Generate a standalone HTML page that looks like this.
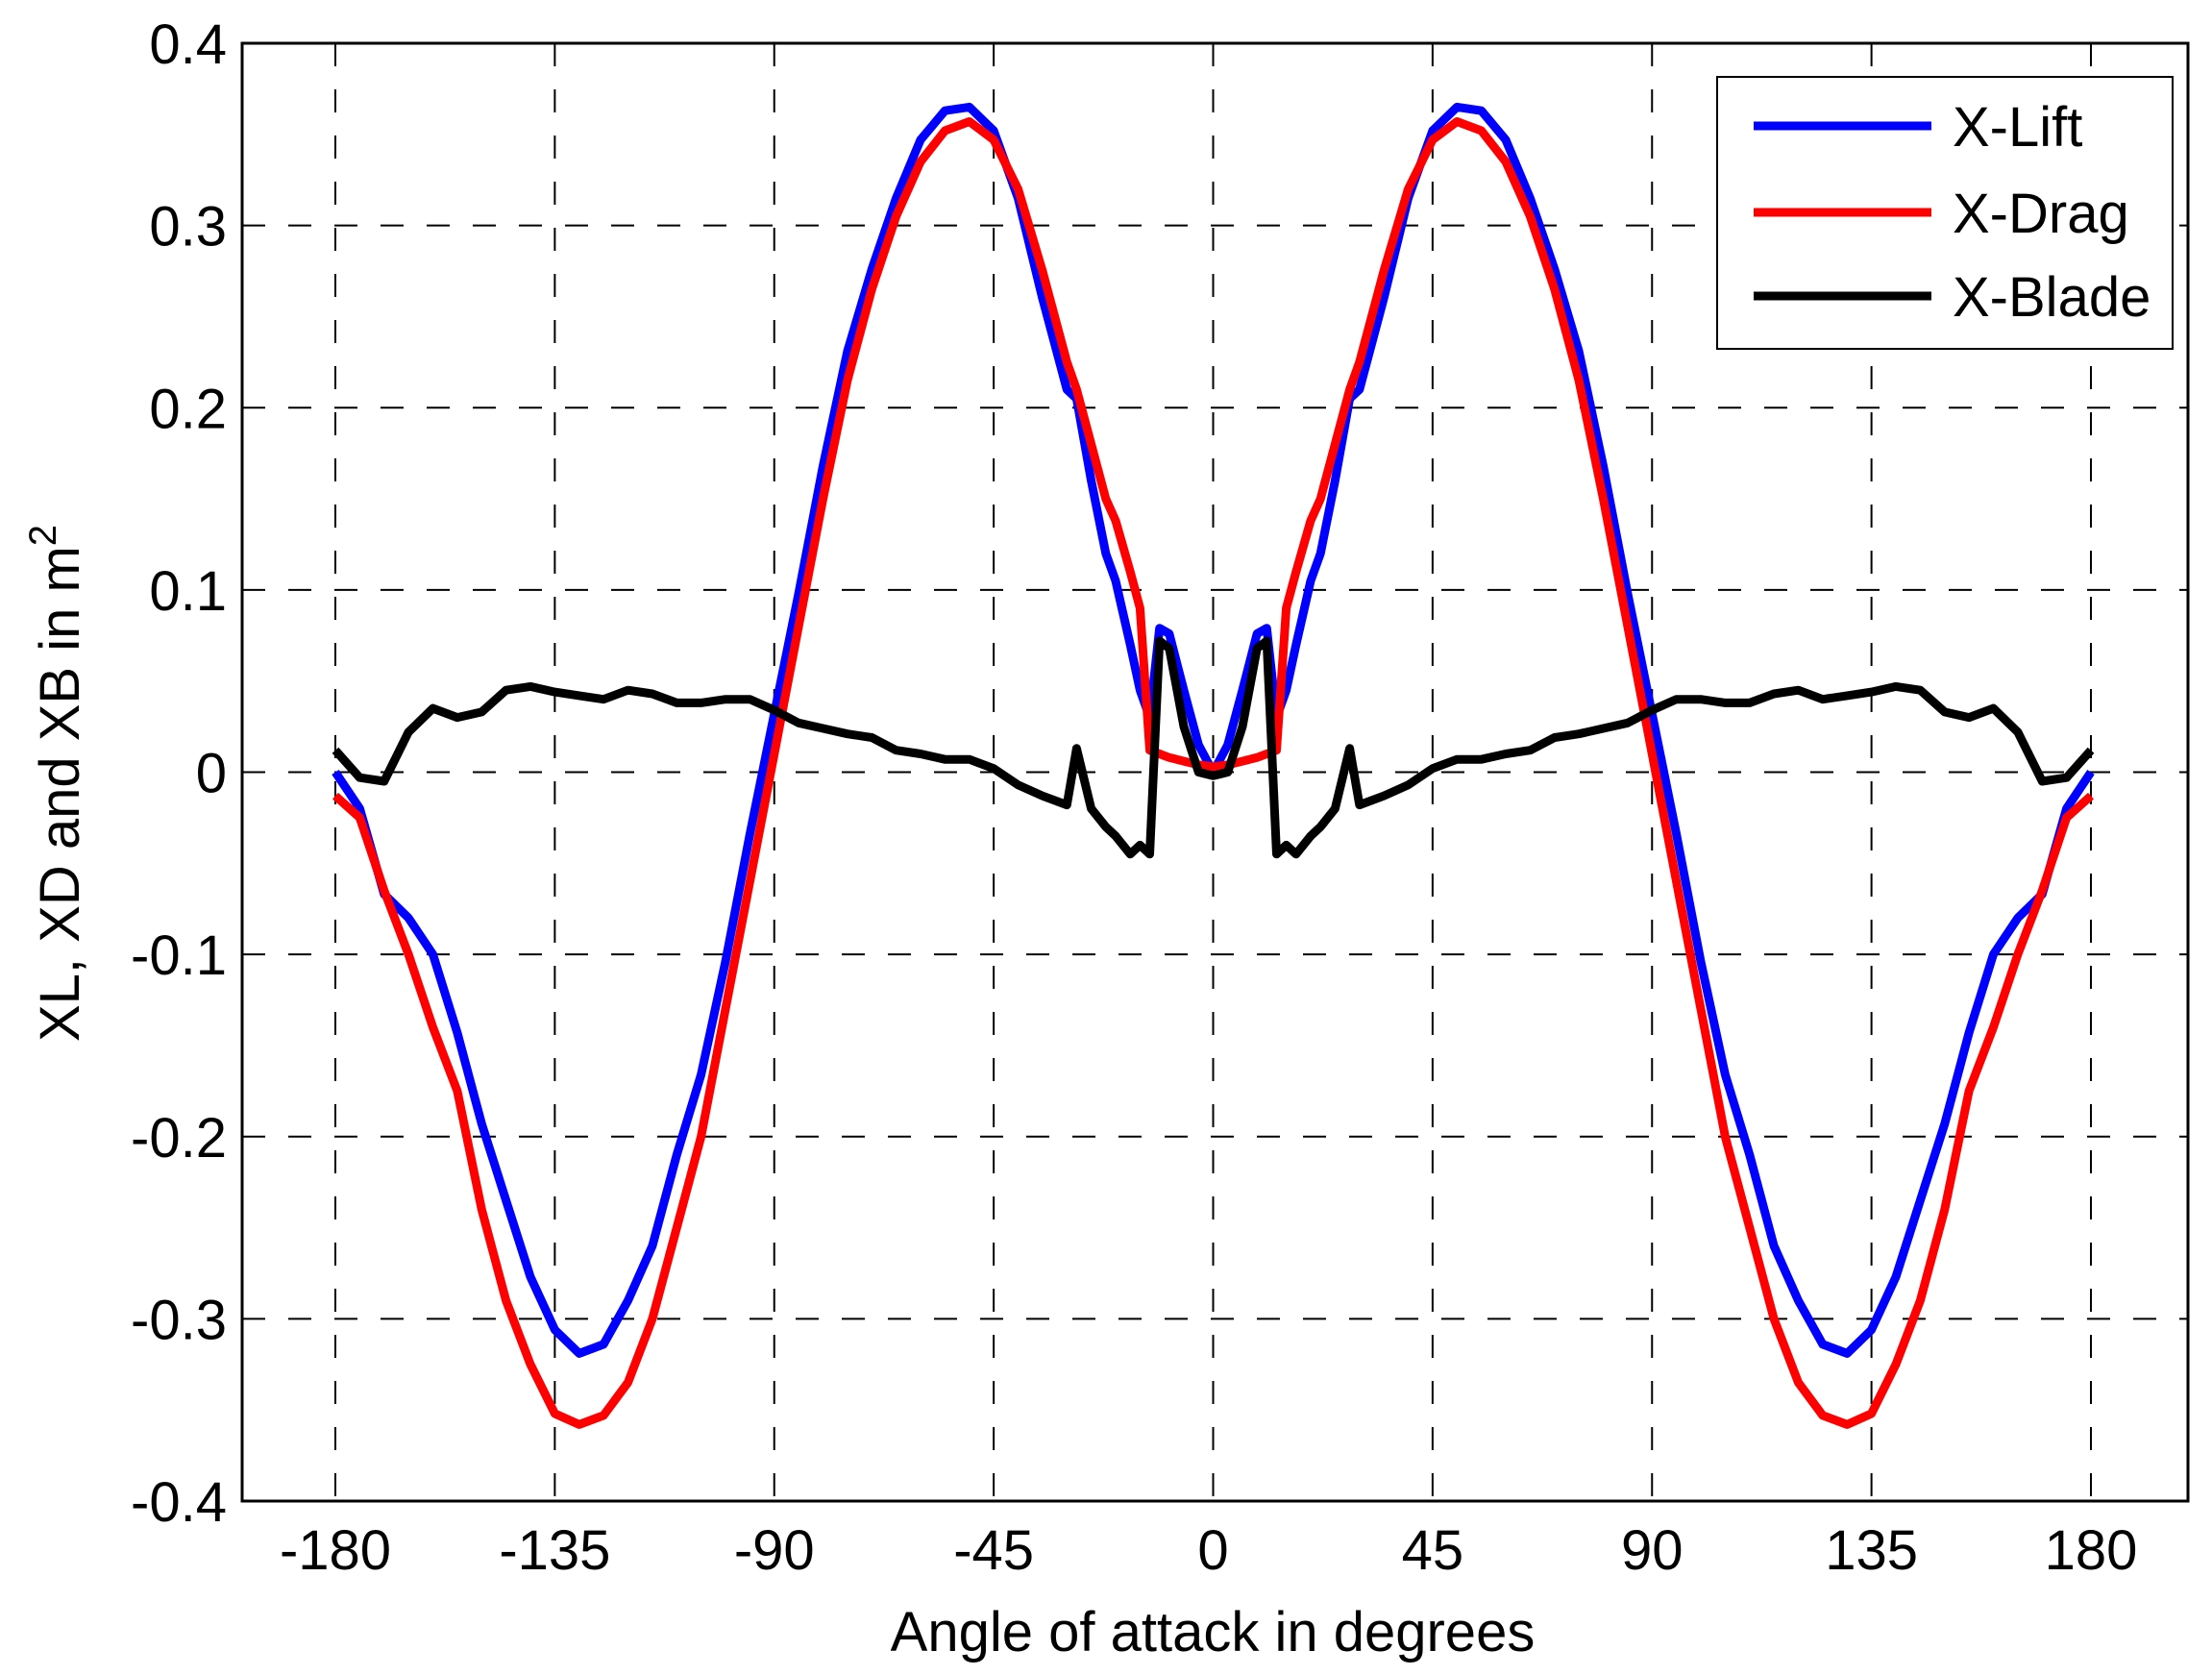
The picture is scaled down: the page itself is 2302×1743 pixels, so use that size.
<!DOCTYPE html>
<html><head><meta charset="utf-8"><style>
html,body{margin:0;padding:0;background:#fff;}
svg{display:block;font-family:"Liberation Sans",Arial,sans-serif;}
</style></head><body>
<svg id="chart" width="2302" height="1743" viewBox="0 0 2302 1743">
<rect x="0" y="0" width="2302" height="1743" fill="#fff"/>
<g id="grid"></g>
<g id="series"></g>
<rect x="252" y="45" width="2025" height="1517" fill="none" stroke="#000" stroke-width="3"/>
<g id="ticks"></g>
<text x="1262" y="1718" font-size="58" text-anchor="middle">Angle of attack in degrees</text>
<text transform="translate(82,815) rotate(-90)" font-size="58" text-anchor="middle">XL, XD and XB in m<tspan dy="-24" font-size="40">2</tspan></text>
<g>
<rect x="1787" y="80" width="474" height="283" fill="#fff" stroke="#000" stroke-width="2"/>
<line x1="1825" y1="131" x2="2010" y2="131" stroke="#0000ff" stroke-width="9"/>
<text x="2032" y="152" font-size="58">X-Lift</text>
<line x1="1825" y1="221" x2="2010" y2="221" stroke="#ff0000" stroke-width="9"/>
<text x="2032" y="242" font-size="58">X-Drag</text>
<line x1="1825" y1="308" x2="2010" y2="308" stroke="#000" stroke-width="9"/>
<text x="2032" y="329" font-size="58">X-Blade</text>
</g>
</svg>
<script>
const angles = [-180,-175,-170,-165,-160,-155,-150,-145,-140,-135,-130,-125,-120,-115,-110,-105,-100,-95,-90,-85,-80,-75,-70,-65,-60,-55,-50,-45,-40,-35,-30,-28,-25,-22,-20,-17,-15,-13,-11,-9,-6,-3,0,
3,6,9,11,13,15,17,20,22,25,28,30,35,40,45,50,55,60,65,70,75,80,85,90,95,100,105,110,115,120,125,130,135,140,145,150,155,160,165,170,175,180];
const liftVals = [0,-0.02,-0.067,-0.08,-0.10,-0.143,-0.193,-0.235,-0.277,-0.306,-0.319,-0.314,-0.29,-0.26,-0.21,-0.166,-0.104,-0.034,0.032,0.098,0.168,0.231,0.276,0.315,0.347,0.363,0.365,0.352,0.315,0.26,0.21,0.205,0.16,0.12,0.105,0.07,0.045,0.03,0.079,0.076,0.045,0.015,0,
0.015,0.045,0.076,0.079,0.03,0.045,0.07,0.105,0.12,0.16,0.205,0.21,0.26,0.315,0.352,0.365,0.363,0.347,0.315,0.276,0.231,0.168,0.098,0.032,-0.034,-0.104,-0.166,-0.21,-0.26,-0.29,-0.314,-0.319,-0.306,-0.277,-0.235,-0.193,-0.143,-0.10,-0.08,-0.067,-0.02,0];
const dragVals = [-0.013,-0.025,-0.065,-0.10,-0.14,-0.175,-0.24,-0.29,-0.325,-0.352,-0.358,-0.353,-0.335,-0.30,-0.25,-0.2,-0.13,-0.06,0.01,0.08,0.15,0.215,0.265,0.305,0.335,0.352,0.357,0.347,0.32,0.275,0.225,0.21,0.18,0.15,0.138,0.11,0.09,0.012,0.01,0.008,0.006,0.004,0.003,
0.004,0.006,0.008,0.01,0.012,0.09,0.11,0.138,0.15,0.18,0.21,0.225,0.275,0.32,0.347,0.357,0.352,0.335,0.305,0.265,0.215,0.15,0.08,0.01,-0.06,-0.13,-0.2,-0.25,-0.30,-0.335,-0.353,-0.358,-0.352,-0.325,-0.29,-0.24,-0.175,-0.14,-0.10,-0.065,-0.025,-0.013];
const bladeVals = [0.012,-0.003,-0.005,0.022,0.035,0.03,0.033,0.045,0.047,0.044,0.042,0.04,0.045,0.043,0.038,0.038,0.04,0.04,0.034,0.027,0.024,0.021,0.019,0.012,0.01,0.007,0.007,0.002,-0.007,-0.013,-0.018,0.013,-0.02,-0.03,-0.035,-0.045,-0.04,-0.045,0.072,0.068,0.025,0,-0.002,
0,0.025,0.068,0.072,-0.045,-0.04,-0.045,-0.035,-0.03,-0.02,0.013,-0.018,-0.013,-0.007,0.002,0.007,0.007,0.01,0.012,0.019,0.021,0.024,0.027,0.034,0.04,0.04,0.038,0.038,0.043,0.045,0.04,0.042,0.044,0.047,0.045,0.033,0.03,0.035,0.022,-0.005,-0.003,0.012];
const xTicks = [-180,-135,-90,-45,0,45,90,135,180];
const yTicks = [0.4,0.3,0.2,0.1,0,-0.1,-0.2,-0.3,-0.4];
const yTickLabels = ["0.4","0.3","0.2","0.1","0","-0.1","-0.2","-0.3","-0.4"];

const NS="http://www.w3.org/2000/svg";
function xs(d){return 349+(d+180)*(2176-349)/360;}
function ys(v){return 45+(0.4-v)*(1562-45)/0.8;}
const grid=document.getElementById('grid'), ticks=document.getElementById('ticks'), series=document.getElementById('series');
function mk(tag,attrs,parent){const e=document.createElementNS(NS,tag);for(const k in attrs)e.setAttribute(k,attrs[k]);parent.appendChild(e);return e;}
xTicks.forEach(t=>{
  const g=mk('line',{x1:xs(t),x2:xs(t),y1:45,y2:1562,stroke:'#000','stroke-width':2,'stroke-dasharray':'24,24'},grid);
  
  
  const l=mk('text',{x:xs(t),y:1633,'font-size':58,'text-anchor':'middle'},ticks);
  l.textContent=String(t);
  
  
});
yTicks.forEach((t,i)=>{
  if(i>0&&i<yTicks.length-1){
    const g=mk('line',{x1:252,x2:2277,y1:ys(t),y2:ys(t),stroke:'#000','stroke-width':2,'stroke-dasharray':'24,24'},grid);
    
    
  }
  const l=mk('text',{x:236,y:ys(t)+21,'font-size':58,'text-anchor':'end'},ticks);
  l.textContent=yTickLabels[i];
  
  
});
function line(vals,color,name){
  const d=angles.map((a,i)=>(i?'L':'M')+xs(a).toFixed(1)+','+ys(vals[i]).toFixed(1)).join(' ');
  const p=mk('path',{d:d,fill:'none',stroke:color,'stroke-width':9,'stroke-linejoin':'round'},series);
  
  
}
line(liftVals,'#0000ff','x-lift-line');
line(dragVals,'#ff0000','x-drag-line');
line(bladeVals,'#000000','x-blade-line');
</script>
</body></html>
